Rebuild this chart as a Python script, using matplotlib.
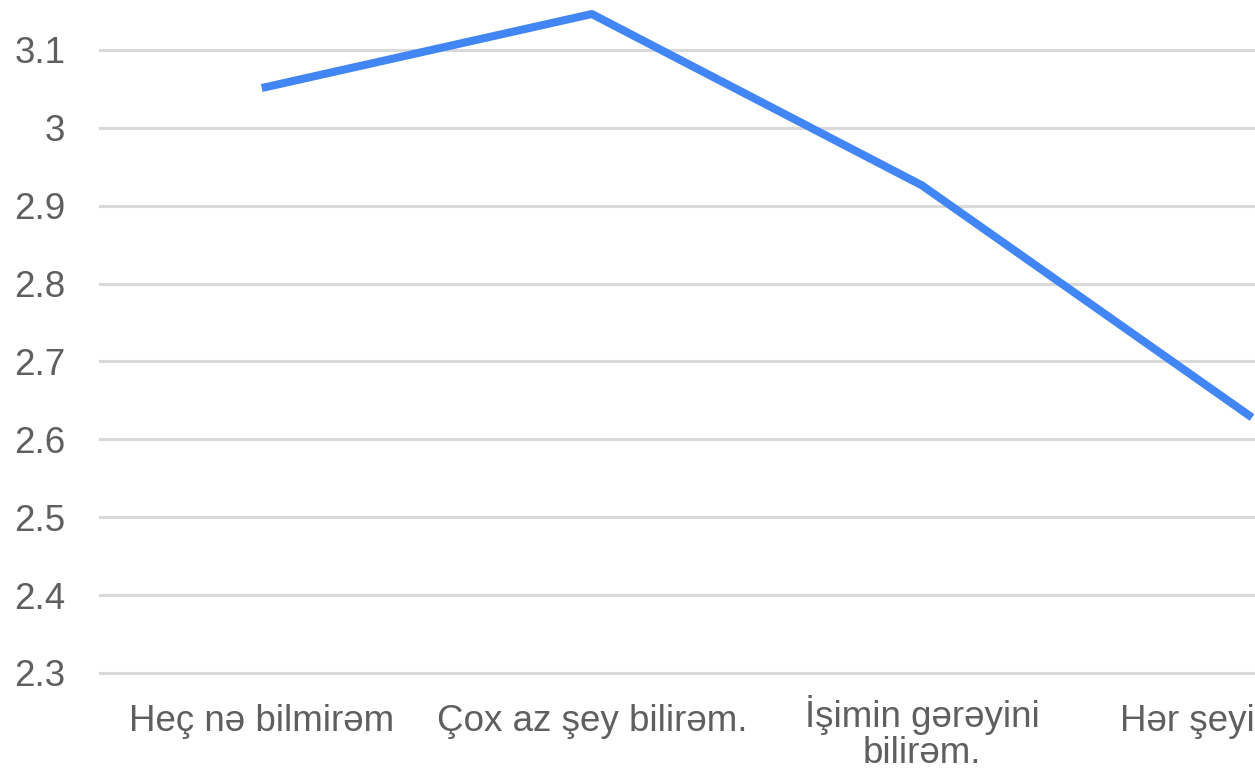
import numpy as np
import matplotlib.pyplot as plt
import matplotlib.transforms as mtransforms

# du lieu doc tu hinh
categories = ['Heç nə bilmirəm', 'Çox az şey bilirəm.', 'İşimin gərəyini\nbilirəm.', 'Hər şeyi bilirəm.']
values = [3.051, 3.146, 2.926, 2.628]
yticks = [2.3, 2.4, 2.5, 2.6, 2.7, 2.8, 2.9, 3.0, 3.1]
ytick_labels = ['2.3', '2.4', '2.5', '2.6', '2.7', '2.8', '2.9', '3', '3.1']

plt.rcParams['font.family'] = ['Liberation Sans', 'DejaVu Sans']

fig = plt.figure(figsize=(12.55, 7.71), dpi=100)
ax = fig.add_axes([100 / 1255, 98 / 771, 1 - 100 / 1255, 1 - 98 / 771])

x = np.arange(len(categories))
ax.plot(x, values, color='#4285F4', linewidth=5.8, solid_capstyle='butt', clip_on=False, zorder=3)

ax.set_xlim(-0.49, 3.009)
ax.set_ylim(2.3, 3.164)
ax.set_yticks(yticks)
ax.set_yticklabels(ytick_labels)
ax.set_xticks(x)
ax.set_xticklabels(categories, linespacing=1.06)

ax.grid(axis='y', color='#d9d9d9', linewidth=2.2)
for gl in ax.get_ygridlines():
    gl.set_clip_on(False)
ax.set_axisbelow(True)
for s in ax.spines.values():
    s.set_visible(False)
ax.tick_params(axis='both', length=0, labelsize=26.5, colors='#5f5f5f')
ax.tick_params(axis='y', pad=25)
ax.tick_params(axis='x', pad=22)

# nhan 2 dong hoi thap hon, day len mot chut
lbl = ax.get_xticklabels()[2]
lbl.set_transform(lbl.get_transform() + mtransforms.ScaledTranslation(0, 9 / 100, fig.dpi_scale_trans))

fig.savefig('out.png', dpi=100)
